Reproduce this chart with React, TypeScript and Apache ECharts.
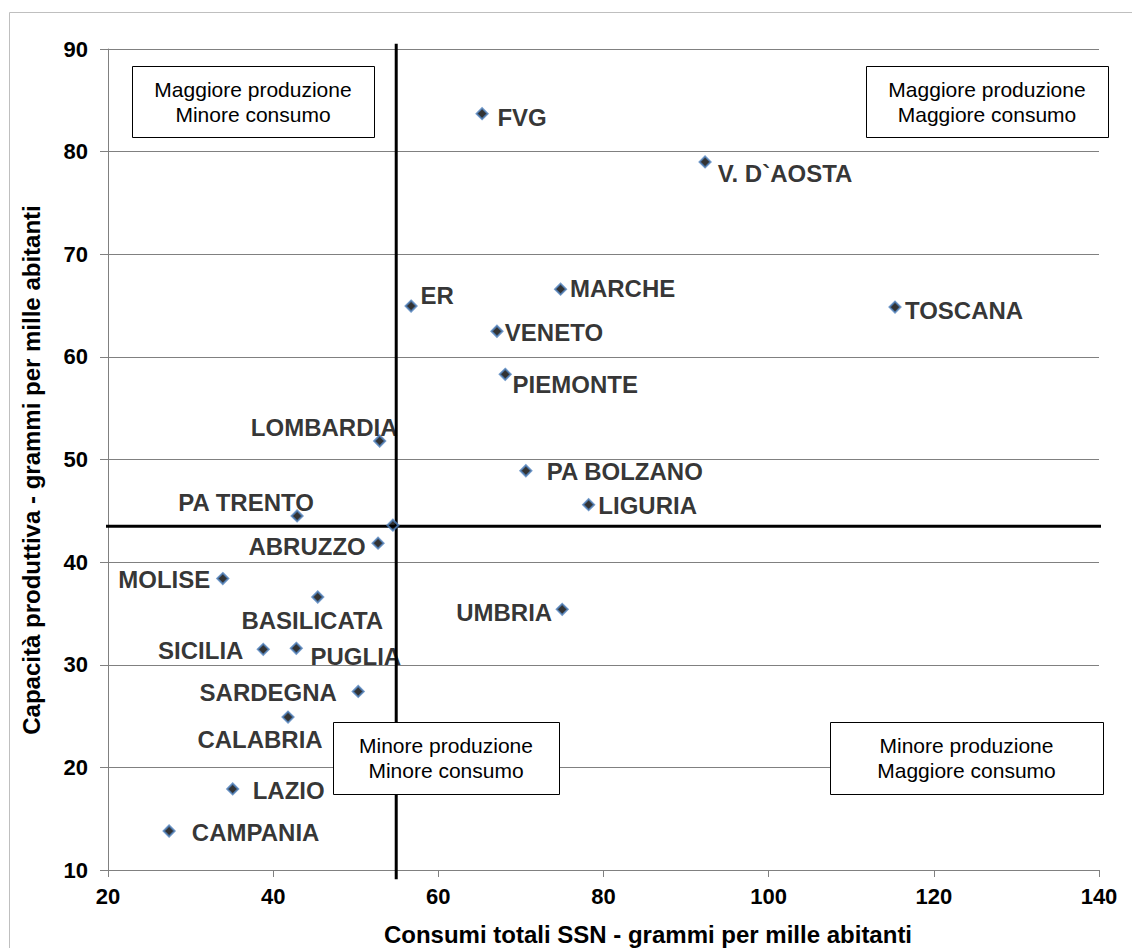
import React, { useEffect, useRef } from 'react';
import * as echarts from 'echarts';

const regions = ['FVG', 'V. D`AOSTA', 'ER', 'MARCHE', 'VENETO', 'PIEMONTE', 'TOSCANA', 'PA BOLZANO', 'LIGURIA', 'UMBRIA', 'LOMBARDIA', 'PA TRENTO', 'ABRUZZO', 'MOLISE', 'BASILICATA', 'SICILIA', 'PUGLIA', 'SARDEGNA', 'CALABRIA', 'LAZIO', 'CAMPANIA'];
const consumi = [65.3, 92.3, 56.7, 74.8, 67.1, 68.1, 115.3, 70.6, 78.2, 75.0, 52.9, 42.9, 52.7, 33.9, 45.4, 38.8, 42.8, 50.3, 41.8, 35.1, 27.4];
const capacita = [83.7, 79.0, 64.95, 66.6, 62.5, 58.3, 64.85, 48.9, 45.6, 35.4, 51.8, 44.5, 41.85, 38.4, 36.6, 31.5, 31.6, 27.4, 24.9, 17.9, 13.8];
// label offsets (text centre relative to marker, px)
const labelOffsets = [[41, 5], [81, 13], [27, -10], [63, 0], [58, 2], [71, 11], [70, 4], [100, 2], [60, 2], [-57, 4], [-54.5, -12.5], [-50, -12.5], [-70, 4.5], [-57.5, 2], [-4.5, 24.5], [-61.5, 2], [60.5, 9.5], [-89, 2.5], [-27, 23.5], [57, 3], [87.5, 2]];

// Italian average (reference cross)
const mediaConsumi = 54.9;
const mediaCapacita = 43.5;
const crossXExtent = [18.4, 143.7];
const crossYExtent = [9.1, 90.5];

const xTicks = { min: 20, max: 140, interval: 20 };
const yTicks = { min: 10, max: 90, interval: 10 };

const xTitle = 'Consumi totali SSN - grammi per mille abitanti';
const yTitle = 'Capacità produttiva - grammi per mille abitanti';

const quadrantTexts = [
  'Maggiore produzione\nMinore consumo',
  'Maggiore produzione\nMaggiore consumo',
  'Minore produzione\nMinore consumo',
  'Minore produzione\nMaggiore consumo',
];
const quadrantBoxes = [
  [132, 66, 242, 71],
  [866, 66, 242, 71],
  [333, 722, 226, 72],
  [830, 722, 273, 72],
];

const FONT = '"Liberation Sans", Arial, Helvetica, sans-serif';

export default function App() {
  const ref = useRef<HTMLDivElement>(null);
  useEffect(() => {
    document.body.style.margin = '0';
    if (!ref.current) return;
    const chart = echarts.init(ref.current, undefined, { renderer: 'svg' });
    const points = regions.map((name, i) => ({
      name,
      value: [consumi[i], capacita[i]],
    }));
    const graphics: any[] = [
      {
        type: 'rect',
        z: -10,
        silent: true,
        shape: { x: 9.5, y: 12.5, width: 1140, height: 950 },
        style: { fill: 'none', stroke: '#bfbfbf', lineWidth: 1 },
      },
      {
        type: 'text',
        x: 648,
        y: 934,
        style: {
          text: xTitle,
          fill: '#000',
          fontSize: 24,
          fontWeight: 'bold',
          fontFamily: FONT,
          align: 'center',
          verticalAlign: 'middle',
        },
      },
      {
        type: 'text',
        x: 31,
        y: 470,
        rotation: Math.PI / 2,
        style: {
          text: yTitle,
          fill: '#000',
          fontSize: 24,
          fontWeight: 'bold',
          fontFamily: FONT,
          align: 'center',
          verticalAlign: 'middle',
        },
      },
    ];
    quadrantBoxes.forEach((b, i) => {
      graphics.push({
        type: 'rect',
        z: 100,
        shape: { x: b[0] + 0.5, y: b[1] + 0.5, width: b[2], height: b[3] },
        style: { fill: '#ffffff', stroke: '#000000', lineWidth: 1 },
      });
      graphics.push({
        type: 'text',
        z: 101,
        x: b[0] + b[2] / 2,
        y: b[1] + b[3] / 2,
        style: {
          text: quadrantTexts[i],
          fill: '#000',
          fontSize: 21,
          fontFamily: FONT,
          lineHeight: 25,
          align: 'center',
          verticalAlign: 'middle',
        },
      });
    });
    chart.setOption({
      animation: false,
      backgroundColor: '#ffffff',
      grid: { left: 108, right: 33, top: 49, bottom: 78, containLabel: false },
      xAxis: {
        type: 'value',
        min: xTicks.min,
        max: xTicks.max,
        interval: xTicks.interval,
        axisLine: { show: true, lineStyle: { color: '#808080', width: 1 } },
        axisTick: { show: true, inside: false, length: 7, lineStyle: { color: '#808080' } },
        axisLabel: { fontSize: 22, fontWeight: 'bold', color: '#000', fontFamily: FONT, margin: 15 },
        splitLine: { show: false },
      },
      yAxis: {
        type: 'value',
        min: yTicks.min,
        max: yTicks.max,
        interval: yTicks.interval,
        axisLine: { show: true, lineStyle: { color: '#808080', width: 1 } },
        axisTick: { show: true, inside: false, length: 8, lineStyle: { color: '#808080' } },
        axisLabel: { fontSize: 22, fontWeight: 'bold', color: '#000', fontFamily: FONT, margin: 20 },
        splitLine: { show: true, lineStyle: { color: '#808080', width: 1 } },
      },
      series: [
        {
          type: 'line',
          data: [[crossXExtent[0], mediaCapacita], [crossXExtent[1], mediaCapacita]],
          symbol: 'none',
          clip: false,
          silent: true,
          lineStyle: { color: '#000', width: 3 },
          z: 3,
        },
        {
          type: 'line',
          data: [[mediaConsumi, crossYExtent[1]], [mediaConsumi, crossYExtent[0]]],
          symbol: 'none',
          clip: false,
          silent: true,
          lineStyle: { color: '#000', width: 3 },
          z: 3,
        },
        {
          type: 'scatter',
          data: [[mediaConsumi - 0.4, mediaCapacita + 0.1]],
          symbol: 'diamond',
          symbolSize: 11,
          itemStyle: { color: '#000', borderColor: '#4f81bd', borderWidth: 2 },
          z: 4,
        },
        {
          type: 'scatter',
          data: points,
          symbol: 'diamond',
          symbolSize: 11,
          itemStyle: { color: '#000', borderColor: '#4f81bd', borderWidth: 2 },
          label: {
            show: true,
            position: [5.5, 5.5],
            align: 'center',
            verticalAlign: 'middle',
            formatter: '{b}',
            fontSize: 24,
            fontWeight: 'bold',
            color: '#000',
            fontFamily: FONT,
          },
          labelLayout: (params: any) => ({
            dx: labelOffsets[params.dataIndex][0],
            dy: labelOffsets[params.dataIndex][1],
            hideOverlap: false,
          }),
          z: 5,
        },
      ],
      graphic: graphics,
    });
    return () => chart.dispose();
  }, []);
  return <div ref={ref} style={{ width: 1132, height: 948 }} />;
}
